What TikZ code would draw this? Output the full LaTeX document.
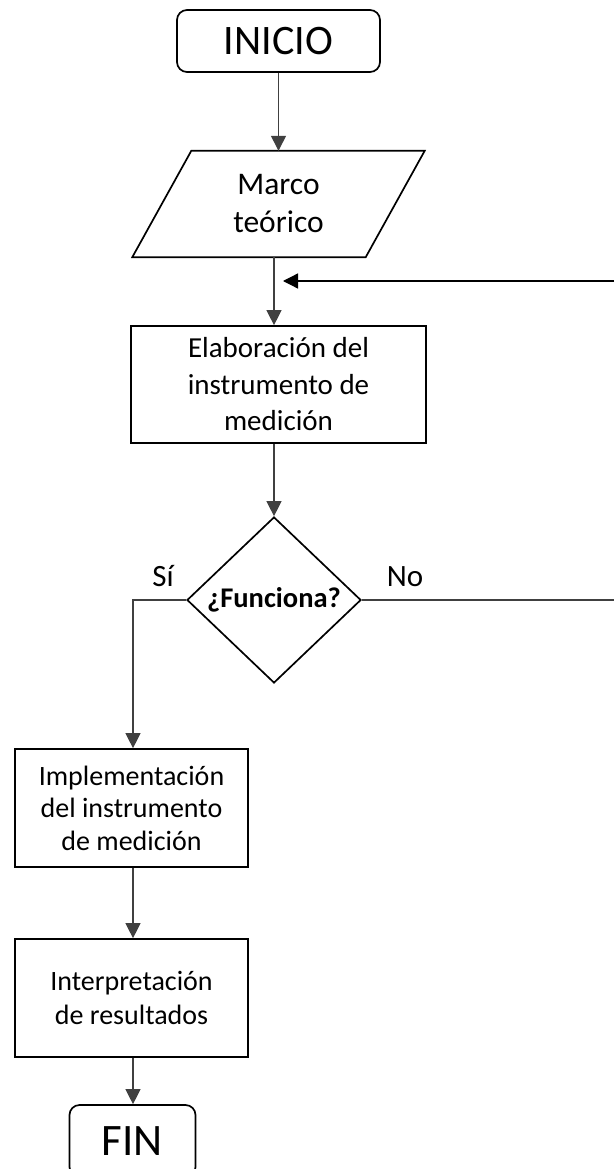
\documentclass[tikz,border=0pt]{standalone}
\usepackage{fontspec}
\setmainfont{Carlito}
\usetikzlibrary{shapes.geometric,arrows.meta}
\begin{document}
\begin{tikzpicture}[x=1pt,y=-1pt,
  shapeline/.style={draw=black,line width=1.7pt},
  term/.style={shapeline,rounded corners=10pt,inner sep=0pt},
  procbox/.style={shapeline,inner sep=0pt,align=center},
  conn/.style={draw=black!75,line width=1.3pt},
  arr/.style={conn,-{Triangle[length=15pt,width=15pt]}},
  lbl/.style={font=\fontsize{31}{36}\selectfont,inner sep=0pt,anchor=base}]
\useasboundingbox (0,0) rectangle (614,1169);

% INICIO
\node[term,minimum width=203pt,minimum height=62pt,font=\fontsize{42}{48}\selectfont] (inicio) at (278.5,41) {INICIO};

% Marco teorico (parallelogram)
\node[inner sep=0pt,minimum width=233pt,minimum height=106pt,align=center,font=\fontsize{31.5}{38}\selectfont] (marco) at (278.5,204) {Marco\\teórico};
\draw[shapeline] ([xshift=29.5pt]marco.north west) -- ([xshift=29.5pt]marco.north east)
  -- ([xshift=-29.5pt]marco.south east) -- ([xshift=-29.5pt]marco.south west) -- cycle;

% Elaboracion
\node[procbox,minimum width=295pt,minimum height=117pt,font=\fontsize{29}{36.5}\selectfont] (elab) at (278.5,384.5) {Elaboración del\\instrumento de\\medición};

% Decision
\node[shapeline,diamond,inner sep=0pt,minimum width=174pt,minimum height=166pt,font=\bfseries\fontsize{28.5}{32}\selectfont] (dia) at (274,600) {¿Funciona?};

% Implementacion
\node[procbox,minimum width=233pt,minimum height=118pt,font=\fontsize{28}{32.5}\selectfont] (impl) at (131.5,808) {Implementación\\del instrumento\\de medición};

% Interpretacion
\node[procbox,minimum width=233pt,minimum height=118pt,font=\fontsize{28}{34}\selectfont] (interp) at (131.5,998) {Interpretación\\de resultados};

% FIN
\node[term,minimum width=126pt,minimum height=72pt,font=\fontsize{45}{52}\selectfont] (fin) at (132.5,1141) {FIN};

% connectors
\draw[arr] (inicio) -- (marco);
\draw[arr] (marco.south -| dia.north) -- (elab.north -| dia.north);
\coordinate (fbR) at (614,281);
\coordinate (fbL) at (283,281);
\draw[arr,draw=black] (fbR) -- (fbL);
\draw[arr] (elab.south -| dia.north) -- (dia.north);
\coordinate (noR) at (614,600);
\draw[conn] (dia.east) -- (noR);
\coordinate (siC) at (133,600);
\draw[arr] (dia.west) -- (siC) -- (siC |- impl.north);
\draw[arr] (impl.south -| siC) -- (interp.north -| siC);
\draw[arr] (interp.south -| siC) -- (fin.north -| siC);

% labels
\node[lbl] (si) at (163,586) {Sí};
\node[lbl] (no) at (405,586) {No};
\end{tikzpicture}
\end{document}
